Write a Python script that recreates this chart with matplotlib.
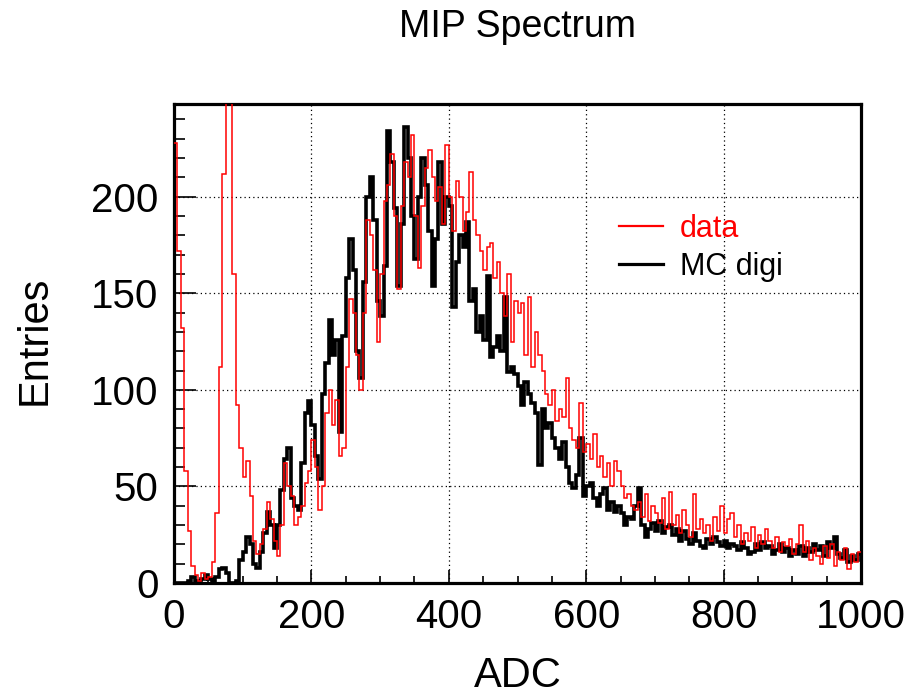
import numpy as np
import matplotlib
matplotlib.use("Agg")
import matplotlib.pyplot as plt
from matplotlib.ticker import MultipleLocator
from matplotlib.lines import Line2D

plt.rcParams['font.family'] = ['Liberation Sans', 'DejaVu Sans']

# ---- data: entries per 5-ADC bin, 0..1000 ----
adc_min, adc_max, bin_width = 0, 1000, 5

data_counts = [
    # 0-100
    228, 172, 132, 58, 27, 9, 4, 1, 5, 2, 3, 11, 36, 112, 212, 300, 300, 160, 92, 70,
    # 100-200
    55, 63, 45, 22, 15, 20, 28, 42, 33, 22, 14, 30, 62, 50, 45, 30, 34, 40, 52, 58,
    # 200-300
    74, 60, 38, 50, 88, 100, 82, 95, 66, 70, 112, 147, 140, 118, 100, 140, 188, 180, 162, 125,
    # 300-400
    160, 198, 206, 222, 190, 152, 195, 218, 210, 232, 190, 163, 195, 215, 224, 210, 198, 205, 186, 227,
    # 400-500
    200, 182, 208, 200, 182, 192, 213, 188, 180, 172, 162, 174, 176, 158, 166, 150, 138, 160, 125, 146,
    # 500-600
    140, 145, 118, 148, 112, 130, 118, 110, 98, 92, 100, 84, 90, 86, 106, 80, 74, 70, 93, 68,
    # 600-700
    72, 64, 77, 60, 66, 55, 62, 50, 63, 58, 50, 44, 46, 40, 38, 42, 34, 46, 32, 40,
    # 700-800
    36, 31, 44, 28, 47, 30, 35, 26, 38, 30, 24, 46, 28, 33, 26, 30, 22, 34, 27, 40,
    # 800-900
    26, 33, 36, 24, 30, 20, 26, 22, 29, 18, 25, 20, 28, 22, 18, 24, 16, 21, 19, 23,
    # 900-1000
    15, 20, 30, 16, 22, 12, 18, 14, 10, 19, 13, 20, 9, 16, 12, 18, 7, 15, 11, 16,
]

mc_counts = [
    # 0-100
    0, 0, 0, 0, 1, 3, 0, 1, 2, 4, 2, 0, 3, 7, 8, 5, 0, 0, 1, 12,
    # 100-200
    16, 24, 20, 10, 8, 16, 26, 37, 30, 18, 30, 48, 64, 70, 44, 40, 38, 62, 88, 94,
    # 200-300
    82, 66, 54, 98, 114, 136, 118, 126, 78, 128, 158, 178, 162, 120, 106, 156, 200, 210, 188, 146,
    # 300-400
    138, 164, 234, 218, 194, 154, 186, 236, 220, 190, 168, 200, 220, 206, 182, 154, 178, 218, 186, 200,
    # 400-500
    195, 143, 166, 180, 174, 187, 146, 152, 130, 138, 126, 159, 117, 122, 128, 120, 148, 109, 112, 108,
    # 500-600
    102, 92, 104, 98, 93, 88, 61, 90, 80, 83, 75, 70, 64, 73, 60, 52, 49, 56, 75, 45,
    # 600-700
    50, 52, 44, 40, 46, 49, 38, 42, 37, 40, 36, 30, 34, 33, 40, 49, 30, 24, 28, 31,
    # 700-800
    27, 32, 26, 29, 30, 25, 28, 22, 27, 23, 20, 26, 22, 19, 18, 23, 20, 24, 21, 19,
    # 800-900
    22, 18, 20, 19, 17, 21, 18, 15, 16, 20, 17, 21, 18, 19, 15, 17, 20, 16, 18, 14,
    # 900-1000
    17, 15, 19, 14, 18, 16, 20, 17, 19, 14, 21, 18, 24, 15, 13, 17, 11, 14, 12, 15,
]

series_labels = ["data", "MC digi"]
title = "MIP Spectrum"
x_label = "ADC"
y_label = "Entries"

edges = np.arange(adc_min, adc_max + bin_width, bin_width)

fig = plt.figure(figsize=(9.14, 6.99), dpi=100)
ax = fig.add_axes([174 / 914, 1 - 583 / 699, (861 - 174) / 914, (583 - 104) / 699])

ax.stairs(data_counts, edges, baseline=None, color="#ff0000", linewidth=1.1,
          label=series_labels[0], zorder=3)
ax.stairs(mc_counts, edges, baseline=None, color="black", linewidth=2.6,
          label=series_labels[1], zorder=2)

ax.set_xlim(adc_min, adc_max)
ax.set_ylim(0, 248)

ax.xaxis.set_major_locator(MultipleLocator(200))
ax.xaxis.set_minor_locator(MultipleLocator(50))
ax.yaxis.set_major_locator(MultipleLocator(50))
ax.yaxis.set_minor_locator(MultipleLocator(10))

ax.grid(True, which="major", color="black", linestyle=(0, (1, 2.5)), linewidth=0.9)
ax.set_axisbelow(True)

ax.tick_params(axis="both", which="both", direction="in", top=False, right=False,
               labelsize=29, width=1.2, colors="black")
ax.tick_params(axis="x", which="major", length=9.5, pad=11)
ax.tick_params(axis="x", which="minor", length=5)
ax.tick_params(axis="y", which="major", length=16, pad=11)
ax.tick_params(axis="y", which="minor", length=8)

for s in ax.spines.values():
    s.set_linewidth(2.3)
    s.set_color("black")

fig.text(517.5 / 914, 1 - 27 / 699, title, fontsize=27, ha="center", va="center")

ax.set_xlabel(x_label, fontsize=30)
ax.xaxis.set_label_coords(0.5, -(676 - 583) / 479)
ax.xaxis.label.set_va("center")
ax.set_ylabel(y_label, fontsize=30)
ax.yaxis.set_label_coords(-(174 - 35) / 687, 0.5 + (343.5 - 340) / 479)
ax.yaxis.label.set_va("center")

handles = [Line2D([], [], color="#ff0000", linewidth=1.6),
           Line2D([], [], color="black", linewidth=2.3)]
ax.legend(handles, series_labels, loc="upper left",
          bbox_to_anchor=((619 - 174) / 687, (583 - 214) / 479),
          frameon=False, fontsize=22, handlelength=1.45, handletextpad=0.55,
          labelspacing=0.25, borderpad=0, borderaxespad=0,
          labelcolor=["#ff0000", "black"])

fig.savefig("out.png", dpi=100, facecolor="white")
